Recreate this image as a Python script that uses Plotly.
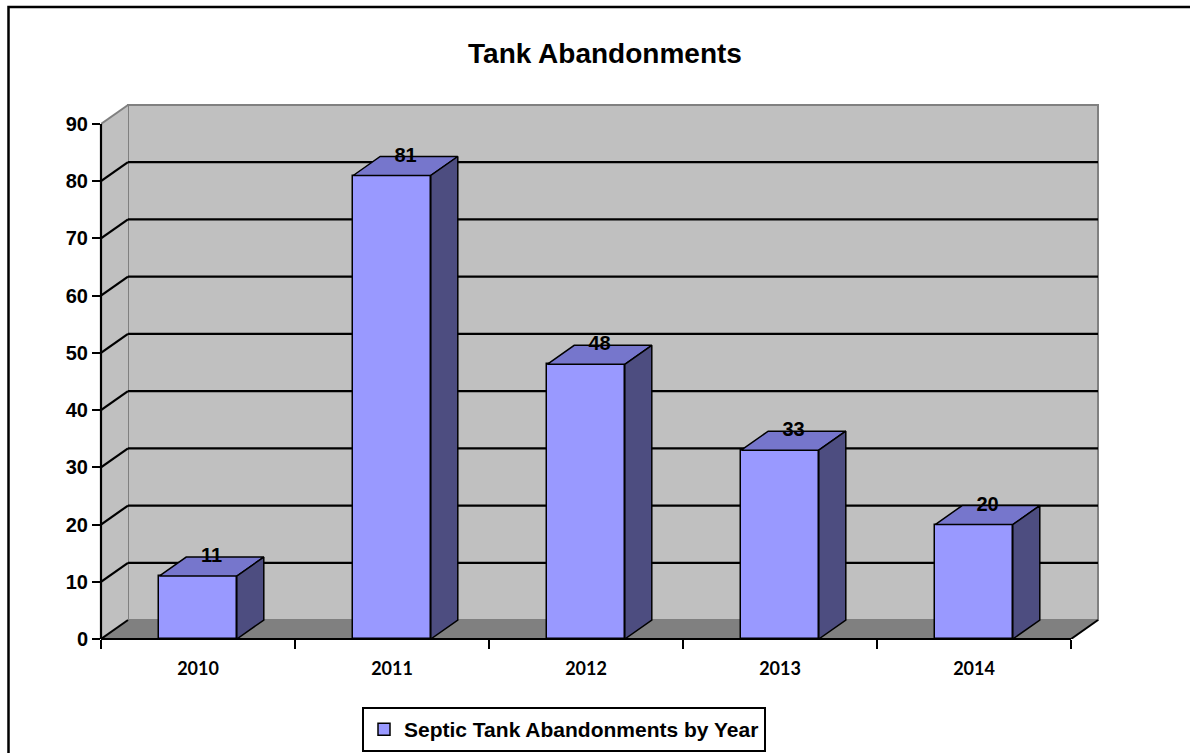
import plotly.graph_objects as go

# ---------------- data ----------------
YEARS = ["2010", "2011", "2012", "2013", "2014"]
VALUES = [11, 81, 48, 33, 20]
Y_TICKS = [0, 10, 20, 30, 40, 50, 60, 70, 80, 90]
SERIES_NAME = "Septic Tank Abandonments by Year"
TITLE = "Tank Abandonments"

# ---------------- geometry / style ----------------
W, H = 1190, 753
PLOT_L, PLOT_R, PLOT_T, PLOT_B = 101, 1099, 103, 639
CAT_PX = 194.0                 # pixels per category
Y_UNIT_PX = 515.0 / 90.0       # pixels per value unit
DEPTH_X_PX, DEPTH_Y_PX = 27.0, 19.0
BAR_W = 0.4

FONT = "Liberation Sans, Arial, sans-serif"
FRONT_C = "#9999FF"
TOP_C = "#7676CC"
SIDE_C = "#4D4D80"
WALL_C = "#C0C0C0"
FLOOR_C = "#808080"
EDGE_GRAY = "#808080"

n = len(YEARS)
pos = list(range(n))
DX = DEPTH_X_PX / CAT_PX
DY = DEPTH_Y_PX / Y_UNIT_PX
x_lo, x_hi = -0.5, n - 0.5
x_max = x_lo + (PLOT_R - PLOT_L) / CAT_PX
y_max = (PLOT_B - PLOT_T) / Y_UNIT_PX
y_top = Y_TICKS[-1]


def paper_x(px):
    return (px - PLOT_L) / (PLOT_R - PLOT_L)


def paper_y(py):
    return (PLOT_B - py) / (PLOT_B - PLOT_T)


shapes = []


def poly(xs, ys, fill, line_color=None, lw=0, layer="below"):
    path = "M " + " L ".join(f"{x},{y}" for x, y in zip(xs, ys)) + " Z"
    shapes.append(dict(type="path", path=path, xref="x", yref="y",
                       fillcolor=fill, line=dict(color=line_color or fill, width=lw),
                       layer=layer))


def seg(x0, y0, x1, y1, color, lw=2, xref="x", yref="y", layer="below"):
    shapes.append(dict(type="line", x0=x0, y0=y0, x1=x1, y1=y1, xref=xref, yref=yref,
                       line=dict(color=color, width=lw), layer=layer))


# back wall
shapes.append(dict(type="rect", xref="x", yref="y", x0=x_lo + DX, x1=x_hi + DX,
                   y0=DY, y1=y_top + DY, fillcolor=WALL_C,
                   line=dict(color=EDGE_GRAY, width=2), layer="below"))
# left wall
poly([x_lo, x_lo + DX, x_lo + DX, x_lo], [0, DY, y_top + DY, y_top], WALL_C)
seg(x_lo, y_top, x_lo + DX, y_top + DY, EDGE_GRAY, 2)
# floor
poly([x_lo, x_hi, x_hi + DX, x_lo + DX], [0, 0, DY, DY], FLOOR_C)
seg(x_lo, 0, x_lo + DX, DY, "black", 2)
seg(x_hi, 0, x_hi + DX, DY, "black", 2)
# gridlines
for v in Y_TICKS[1:-1]:
    seg(x_lo + DX, v + DY, x_hi + DX, v + DY, "black", 2.2)
    seg(x_lo, v, x_lo + DX, v + DY, "black", 2.2)
# axis lines
seg(0, 0, 0, y_top, "black", 2.2, xref="x domain", yref="y", layer="above")
seg(x_lo, 0, x_hi, 0, "black", 2.2, xref="x", yref="y domain", layer="above")
# outer frame
shapes.append(dict(type="rect", xref="paper", yref="paper",
                   x0=paper_x(8.5), x1=paper_x(W + 20), y0=paper_y(H + 20), y1=paper_y(7),
                   line=dict(color="black", width=2.5), fillcolor="rgba(0,0,0,0)",
                   layer="above"))

fig = go.Figure()

# bar front faces
fig.add_trace(go.Bar(x=pos, y=VALUES, width=BAR_W, name=SERIES_NAME,
                     marker=dict(color=FRONT_C, line=dict(color="black", width=1.5)),
                     hoverinfo="skip", showlegend=True))

# bar tops and sides
for c, v in zip(pos, VALUES):
    l, r = c - BAR_W / 2, c + BAR_W / 2
    fig.add_trace(go.Scatter(x=[l, r, r + DX, l + DX, l], y=[v, v, v + DY, v + DY, v],
                             mode="lines", fill="toself", fillcolor=TOP_C,
                             line=dict(color="black", width=1.5),
                             hoverinfo="skip", showlegend=False))
    fig.add_trace(go.Scatter(x=[r, r + DX, r + DX, r, r], y=[0, DY, v + DY, v, 0],
                             mode="lines", fill="toself", fillcolor=SIDE_C,
                             line=dict(color="black", width=1.5),
                             hoverinfo="skip", showlegend=False))

# value labels
fig.add_trace(go.Scatter(x=[c + DX / 2 for c in pos], y=[v + DY for v in VALUES],
                         xaxis="x2", mode="text", text=[str(v) for v in VALUES],
                         textposition="middle center", cliponaxis=False,
                         textfont=dict(family=FONT, size=20, color="black", weight="bold"),
                         hoverinfo="skip", showlegend=False))

fig.update_layout(
    width=W, height=H, autosize=False,
    margin=dict(l=PLOT_L, r=W - PLOT_R, t=PLOT_T, b=H - PLOT_B, pad=0, autoexpand=False),
    paper_bgcolor="white", plot_bgcolor="white",
    hovermode=False, bargap=0,
    title=dict(text=TITLE, x=605 / W, xref="container", xanchor="center",
               y=1 - 53 / H, yref="container", yanchor="middle",
               font=dict(family=FONT, size=28, color="black", weight="bold")),
    xaxis=dict(range=[x_lo, x_max], tickmode="array",
               tickvals=[p - 0.5 for p in pos] + [x_hi],
               ticktext=[""] * (n + 1), showticklabels=False,
               ticks="outside", ticklen=9, tickwidth=2, tickcolor="black",
               showgrid=False, zeroline=False, showline=False, fixedrange=True,
               automargin=False),
    xaxis2=dict(range=[x_lo, x_max], overlaying="x", anchor="y", side="bottom",
                tickmode="array", tickvals=pos, ticktext=YEARS,
                ticks="outside", ticklen=13, tickcolor="rgba(0,0,0,0)",
                tickfont=dict(family="Lato, sans-serif", size=18, color="black", weight="bold"),
                showgrid=False, zeroline=False, showline=False, fixedrange=True,
                automargin=False),
    yaxis=dict(range=[0, y_max], tickmode="array", tickvals=Y_TICKS,
               ticks="outside", ticklen=8, tickwidth=2, tickcolor="black",
               tickfont=dict(family=FONT, size=20, color="black", weight="bold"),
               showgrid=False, zeroline=False, showline=False, fixedrange=True,
               automargin=False),
    shapes=shapes,
    showlegend=True,
    legend=dict(x=362 / W, y=1 - 707 / H, xref="container", yref="container",
                xanchor="left", yanchor="top",
                orientation="h", bgcolor="white", bordercolor="black", borderwidth=2,
                font=dict(family=FONT, size=21, color="black", weight="bold"),
                itemwidth=30),
)

fig.write_html("out.html")
